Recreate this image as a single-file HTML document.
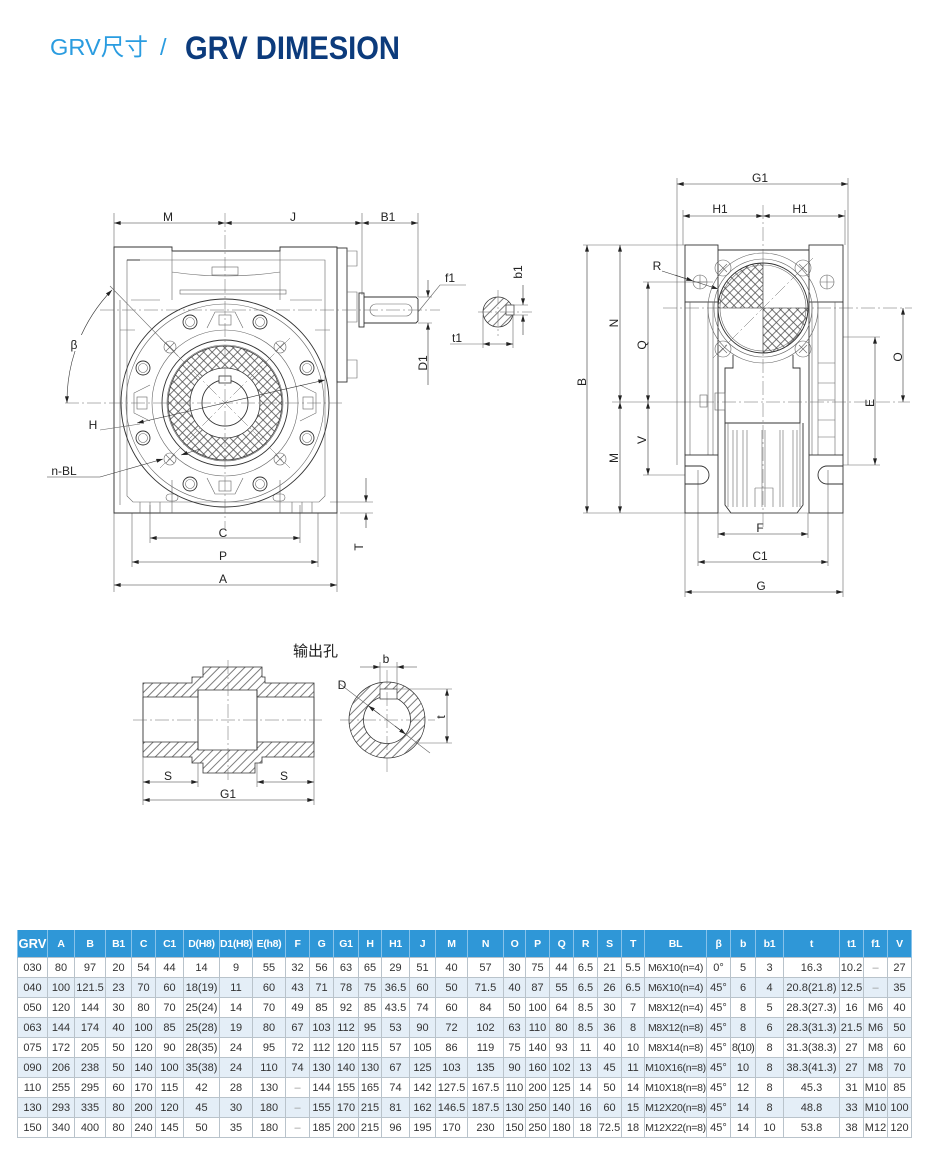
<!DOCTYPE html>
<html><head><meta charset="utf-8">
<style>
body{margin:0;width:930px;height:1150px;background:#fff;position:relative;overflow:hidden}
svg{position:absolute;left:0;top:0}
.k{stroke:#333;stroke-width:.9;fill:none}
.n{stroke:#666;stroke-width:.6;fill:none}
.c{stroke:#666;stroke-width:.5;fill:none;stroke-dasharray:14 3 2 3}
.d{stroke:#333;stroke-width:.6;fill:none;marker-start:url(#a);marker-end:url(#a)}
.e{stroke:#333;stroke-width:.6;fill:none;marker-end:url(#a)}
text{font-family:"Liberation Sans","Noto Sans CJK SC",sans-serif}
.lb{font-size:12px;fill:#222;text-anchor:middle}
table{position:absolute;left:17px;top:930px;width:894px;border-collapse:collapse;table-layout:fixed;font-family:"Liberation Sans",sans-serif;font-size:11px;color:#333;text-align:center}
th{height:27px;background:#2f97d7;color:#fff;font-weight:bold;padding:0;border-left:1px solid #86c2ea;border-right:1px solid #86c2ea;white-space:nowrap;overflow:hidden;font-size:10.5px;letter-spacing:-0.3px}
th.g{font-size:13px;letter-spacing:0}
td{height:19px;padding:0;border:1px solid #b9c3cb;white-space:nowrap;overflow:hidden}
tr:nth-child(odd) td{background:#e4eef7}
td.bl{font-size:10.5px;letter-spacing:-0.3px}
td.s{letter-spacing:-0.7px}
td.z{color:#999}
</style></head>
<body>
<svg width="930" height="920" viewBox="0 0 930 920">
<defs>
<marker id="a" viewBox="0 0 10 6" refX="10" refY="3" markerWidth="10" markerHeight="4" markerUnits="userSpaceOnUse" orient="auto-start-reverse"><path d="M0,0L10,3L0,6z" fill="#222"/></marker>
<pattern id="x" width="6" height="6" patternUnits="userSpaceOnUse" patternTransform="rotate(45)"><path d="M0,3H6M3,0V6" stroke="#444" stroke-width="0.7"/></pattern>
<pattern id="h" width="6" height="6" patternUnits="userSpaceOnUse" patternTransform="rotate(45)"><path d="M3,0V6" stroke="#444" stroke-width="0.7"/></pattern>
</defs>

<!-- Title -->
<text x="50" y="55" font-size="23.5" fill="#2a9ce0" textLength="98" lengthAdjust="spacingAndGlyphs">GRV尺寸</text>
<text x="160" y="55" font-size="23.5" fill="#2a9ce0">/</text>
<text x="185" y="59" font-size="32" font-weight="bold" fill="#0c3b7c" textLength="215" lengthAdjust="spacingAndGlyphs">GRV DIMESION</text>

<!-- ============ LEFT FRONT VIEW ============ -->
<path class="n" d="M114,213V592 M362,213V295 M418,213V297 M337,513V592 M132,513V567 M318,513V567 M150,505V543 M300,505V543 M330,502H373 M340,513H373"/>
<line class="d" x1="114" y1="223" x2="225" y2="223"/>
<line class="d" x1="225" y1="223" x2="362" y2="223"/>
<line class="d" x1="362" y1="223" x2="418" y2="223"/>
<line class="d" x1="150" y1="538" x2="300" y2="538"/>
<line class="d" x1="132" y1="562" x2="318" y2="562"/>
<line class="d" x1="114" y1="585" x2="337" y2="585"/>
<line class="e" x1="366" y1="478" x2="366" y2="502"/>
<line class="e" x1="366" y1="528" x2="366" y2="513"/>
<text class="lb" x="168" y="221">M</text>
<text class="lb" x="293" y="221">J</text>
<text class="lb" x="388" y="221">B1</text>
<text class="lb" x="223" y="537">C</text>
<text class="lb" x="223" y="560">P</text>
<text class="lb" x="223" y="583">A</text>
<text class="lb" transform="translate(363,547) rotate(-90)">T</text>

<!-- housing -->
<path class="k" d="M114,247H172V251H280V247H337V513H114Z"/>
<path class="n" d="M127,260H325V496L319,502H133L127,496Z"/>
<path class="k" d="M127,260H140"/>
<path class="n" d="M172,251V300 M280,251V300 M172,480V513 M280,480V513 M172,272Q225,280 280,272 M120,300V505 M131,300H160 M290,300H322 M120,330H135 M315,330H330"/>
<rect class="n" x="180" y="290" width="106" height="4"/>
<rect class="n" x="212" y="267" width="26" height="8"/>
<rect class="n" x="166" y="494" width="12" height="7" rx="3.5"/>
<rect class="n" x="273" y="494" width="12" height="7" rx="3.5"/>
<path class="n" d="M140,502V513 M150,502V513 M160,502V513 M292,502V513 M302,502V513 M312,502V513"/>
<!-- side plate + shaft -->
<rect class="k" x="337" y="248" width="10" height="134"/>
<path class="n" d="M347,251h10v15h-10 M347,292h10v30h-10 M347,360h10v18h-10"/>
<rect class="k" x="359" y="293" width="5" height="34"/>
<path class="k" d="M364,297H416L418,299V321L416,323H364"/>
<rect class="n" x="370" y="304" width="42" height="12" rx="6"/>
<line class="c" x1="100" y1="310" x2="440" y2="310"/>

<!-- flange circle system -->
<circle class="k" cx="225" cy="403" r="104"/>
<circle class="n" cx="225" cy="403" r="99"/>
<circle class="n" cx="225" cy="403" r="73"/>
<circle class="k" cx="225" cy="403" r="63"/>
<circle class="n" cx="225" cy="403" r="58"/>
<path fill="url(#x)" stroke="#333" stroke-width=".8" fill-rule="evenodd" d="M168,403A57,57 0 1 0 282,403A57,57 0 1 0 168,403Z M190,403A35,35 0 1 0 260,403A35,35 0 1 0 190,403Z"/>
<circle class="k" cx="225" cy="403" r="23"/>
<rect x="219" y="376" width="12" height="7" fill="#fff" stroke="#333" stroke-width=".8"/>
<g class="n">
<path d="M207,328L215,312H235L243,328"/>
<path d="M207,328L215,312H235L243,328" transform="rotate(90 225 403)"/>
<path d="M207,328L215,312H235L243,328" transform="rotate(180 225 403)"/>
<path d="M207,328L215,312H235L243,328" transform="rotate(270 225 403)"/>
</g>
<rect class="n" x="219" y="315" width="12" height="10"/>
<rect class="n" x="219" y="481" width="12" height="10"/>
<rect class="n" x="137" y="397" width="10" height="12"/>
<rect class="n" x="303" y="397" width="10" height="12"/>
<g>
<circle class="k" cx="190" cy="322" r="7"/><circle class="n" cx="190" cy="322" r="4.5"/>
<circle class="k" cx="260" cy="322" r="7"/><circle class="n" cx="260" cy="322" r="4.5"/>
<circle class="k" cx="143" cy="368" r="7"/><circle class="n" cx="143" cy="368" r="4.5"/>
<circle class="k" cx="307" cy="368" r="7"/><circle class="n" cx="307" cy="368" r="4.5"/>
<circle class="k" cx="143" cy="438" r="7"/><circle class="n" cx="143" cy="438" r="4.5"/>
<circle class="k" cx="307" cy="438" r="7"/><circle class="n" cx="307" cy="438" r="4.5"/>
<circle class="k" cx="190" cy="484" r="7"/><circle class="n" cx="190" cy="484" r="4.5"/>
<circle class="k" cx="260" cy="484" r="7"/><circle class="n" cx="260" cy="484" r="4.5"/>
</g>
<g>
<circle class="n" cx="170" cy="347" r="6"/><circle class="n" cx="280" cy="347" r="6"/>
<circle class="n" cx="170" cy="459" r="6"/><circle class="n" cx="280" cy="459" r="6"/>
<path class="n" d="M166,343l8,8m0,-8l-8,8 M276,343l8,8m0,-8l-8,8 M166,455l8,8m0,-8l-8,8 M276,455l8,8m0,-8l-8,8"/>
</g>
<line class="c" x1="225" y1="213" x2="225" y2="530"/>
<line class="c" x1="65" y1="403" x2="342" y2="403"/>
<line class="c" x1="160" y1="338" x2="290" y2="468"/>
<line class="c" x1="290" y1="338" x2="160" y2="468"/>
<line class="n" x1="110" y1="286" x2="178" y2="356"/>
<!-- beta arc -->
<path class="d" d="M112,290A160,160 0 0 0 67,403"/>
<rect x="64" y="335" width="20" height="16" fill="#fff"/>
<text class="lb" x="74" y="349">β</text>
<!-- H -->
<path class="n" d="M100,430L140,424"/>
<line class="d" x1="137" y1="423" x2="325" y2="380"/>
<text class="lb" x="93" y="429">H</text>
<!-- n-BL -->
<path class="e" d="M47,477H100L163,459"/>
<path class="e" d="M200,449L181,455"/>
<text class="lb" x="64" y="475">n-BL</text>

<!-- ============ SHAFT DETAIL ============ -->
<path class="n" d="M418,297H432 M418,323H432"/>
<line class="e" x1="428" y1="280" x2="428" y2="297"/>
<line class="e" x1="428" y1="385" x2="428" y2="323"/>
<path class="n" d="M418,312L440,285H466"/>
<text class="lb" x="450" y="282">f1</text>
<text class="lb" transform="translate(427,363) rotate(-90)">D1</text>
<!-- cross section -->
<circle cx="498" cy="312" r="15" fill="url(#h)" stroke="#333" stroke-width=".8"/>
<rect x="506" y="305" width="8" height="10" fill="#fff" stroke="#333" stroke-width=".7"/>
<line class="c" x1="478" y1="312" x2="532" y2="312"/>
<line class="c" x1="498" y1="290" x2="498" y2="336"/>
<path class="n" d="M508,305H528 M508,315H528 M483,315V348 M513,315V348 M450,344H483"/>
<line class="e" x1="523" y1="285" x2="523" y2="305"/>
<line class="e" x1="523" y1="335" x2="523" y2="315"/>
<line class="d" x1="483" y1="344" x2="513" y2="344"/>
<text class="lb" transform="translate(522,272) rotate(-90)">b1</text>
<text class="lb" x="457" y="342">t1</text>

<!-- ============ RIGHT SIDE VIEW ============ -->
<path class="n" d="M677,178V465 M848,178V465 M683,210V245 M845,210V245 M583,245H685 M583,513H685 M643,282H713 M643,475H685 M843,337H880 M843,465H880 M718,513V538 M808,513V538 M698,470V566 M828,470V566 M685,513V597 M843,513V597 M612,402H700"/>
<line class="d" x1="677" y1="184" x2="848" y2="184"/>
<line class="d" x1="683" y1="216" x2="763" y2="216"/>
<line class="d" x1="763" y1="216" x2="845" y2="216"/>
<line class="d" x1="587" y1="245" x2="587" y2="513"/>
<line class="d" x1="620" y1="245" x2="620" y2="402"/>
<line class="d" x1="620" y1="402" x2="620" y2="513"/>
<line class="d" x1="648" y1="282" x2="648" y2="402"/>
<line class="d" x1="648" y1="402" x2="648" y2="475"/>
<line class="d" x1="903" y1="308" x2="903" y2="402"/>
<line class="d" x1="875" y1="337" x2="875" y2="465"/>
<line class="d" x1="718" y1="534" x2="808" y2="534"/>
<line class="d" x1="698" y1="562" x2="828" y2="562"/>
<line class="d" x1="685" y1="592" x2="843" y2="592"/>
<text class="lb" x="760" y="182">G1</text>
<text class="lb" x="720" y="213">H1</text>
<text class="lb" x="800" y="213">H1</text>
<text class="lb" x="760" y="532">F</text>
<text class="lb" x="760" y="560">C1</text>
<text class="lb" x="761" y="590">G</text>
<text class="lb" transform="translate(586,382) rotate(-90)">B</text>
<text class="lb" transform="translate(618,323) rotate(-90)">N</text>
<text class="lb" transform="translate(618,458) rotate(-90)">M</text>
<text class="lb" transform="translate(646,345) rotate(-90)">Q</text>
<text class="lb" transform="translate(646,440) rotate(-90)">V</text>
<text class="lb" transform="translate(902,357) rotate(-90)">O</text>
<text class="lb" transform="translate(874,403) rotate(-90)">E</text>
<text class="lb" x="657" y="270">R</text>
<line class="e" x1="662" y1="271" x2="718" y2="289"/>
<line class="e" x1="675" y1="275" x2="693" y2="281"/>

<!-- housing -->
<rect class="k" x="685" y="245" width="33" height="57"/>
<rect class="k" x="809" y="245" width="34" height="57"/>
<path class="k" d="M718,250H809"/>
<circle class="n" cx="700" cy="282" r="7"/>
<circle class="n" cx="827" cy="282" r="7"/>
<path class="n" d="M693,282H707M700,275V289 M820,282H834M827,275V289"/>
<path class="k" d="M685,302V455 M718,302V455 M809,302V455 M843,302V455"/>
<path class="n" d="M690,302V455 M708,302V455 M713,302V455 M812,302V455 M818,302V455 M835,302V455 M818,363H835 M818,383H835 M818,400H835 M818,420H835 M818,437H835"/>
<rect class="k" x="685" y="455" width="33" height="58"/>
<rect class="k" x="809" y="455" width="34" height="58"/>
<path class="k" d="M685,466H700A9,9 0 0 1 700,484H685"/>
<path class="k" d="M843,466H827A9,9 0 0 0 827,484H843"/>
<path class="k" d="M733,355V368H725V423H800V368H793V355"/>
<rect class="n" x="715" y="393" width="10" height="17"/>
<rect class="n" x="700" y="395" width="7" height="12"/>
<path class="k" d="M725,423V505L731,513H797L803,505V423"/>
<path class="n" d="M728,423V507 M733,430V507 M737,430V507 M743,430V507 M747,430V507 M762,430V507 M765,430V507 M780,430V507 M783,430V507 M793,430V507 M797,430V507 M800,423V507 M755,488H773V507 M755,488V507 M718,513H809"/>
<!-- flange + circle -->
<circle class="n" cx="763" cy="308" r="55"/>
<circle class="n" cx="763" cy="308" r="49"/>
<circle class="n" cx="723" cy="268" r="8"/><circle class="n" cx="803" cy="268" r="8"/>
<circle class="n" cx="723" cy="349" r="8"/><circle class="n" cx="803" cy="349" r="8"/>
<path class="n" d="M719,264l8,8m0,-8l-8,8 M799,264l8,8m0,-8l-8,8 M719,345l8,8m0,-8l-8,8 M799,345l8,8m0,-8l-8,8"/>
<circle cx="763" cy="308" r="45" fill="#fff" stroke="#333" stroke-width=".9"/>
<path fill="url(#x)" stroke="#333" stroke-width=".6" d="M763,308H718A45,45 0 0 1 763,263Z M763,308H808A45,45 0 0 1 763,353Z"/>
<circle class="n" cx="763" cy="308" r="43"/>
<line class="c" x1="763" y1="205" x2="763" y2="530"/>
<line class="c" x1="663" y1="308" x2="912" y2="308"/>
<line class="c" x1="700" y1="402" x2="910" y2="402"/>
<line class="c" x1="713" y1="358" x2="813" y2="258"/>

<!-- ============ OUTPUT HOLE SECTION ============ -->
<text x="293" y="656" font-size="15" fill="#222">输出孔</text>
<path fill="url(#h)" stroke="#333" stroke-width=".8" d="M143,683H192V677H203V667H262V677H265V683H314V697H257V690H198V697H143Z"/>
<path fill="url(#h)" stroke="#333" stroke-width=".8" d="M143,757H192V763H203V773H255V763H262V757H314V742H257V750H198V742H143Z"/>
<path class="k" d="M143,697V742 M314,697V742 M198,690V750 M257,690V750"/>
<path class="n" d="M143,757V805 M314,757V805 M198,763V787 M257,763V787"/>
<line class="c" x1="133" y1="720" x2="322" y2="720"/>
<line class="c" x1="228" y1="660" x2="228" y2="780"/>
<line class="d" x1="143" y1="782" x2="198" y2="782"/>
<line class="d" x1="257" y1="782" x2="314" y2="782"/>
<line class="d" x1="143" y1="800" x2="314" y2="800"/>
<text class="lb" x="168" y="780">S</text>
<text class="lb" x="284" y="780">S</text>
<text class="lb" x="228" y="798">G1</text>
<!-- ring -->
<path fill="url(#h)" stroke="#333" stroke-width=".8" fill-rule="evenodd" d="M349,720A38,38 0 1 0 425,720A38,38 0 1 0 349,720Z M363.5,720A23.5,23.5 0 1 0 410.5,720A23.5,23.5 0 1 0 363.5,720Z"/>
<rect x="380" y="689" width="17" height="10" fill="#fff" stroke="#333" stroke-width=".7"/>
<line class="c" x1="340" y1="720" x2="435" y2="720"/>
<line class="c" x1="387" y1="670" x2="387" y2="772"/>
<path class="n" d="M380,662V689 M397,662V689 M397,689H452 M415,743H452 M340,684L430,753"/>
<line class="e" x1="360" y1="667" x2="380" y2="667"/>
<line class="e" x1="417" y1="667" x2="397" y2="667"/>
<line class="n" x1="380" y1="667" x2="397" y2="667"/>
<line class="d" x1="447" y1="689" x2="447" y2="743"/>
<line class="e" x1="380" y1="714.6" x2="368.3" y2="705.8"/>
<line class="e" x1="395" y1="726" x2="405.7" y2="734.2"/>
<text class="lb" x="386" y="663">b</text>
<text class="lb" x="342" y="689">D</text>
<text class="lb" transform="translate(445,717) rotate(-90)">t</text>
</svg>

<table>
<colgroup>
<col style="width:30px"><col style="width:27px"><col style="width:31px"><col style="width:26px"><col style="width:24px"><col style="width:28px"><col style="width:36px"><col style="width:33px"><col style="width:33px"><col style="width:24px"><col style="width:24px"><col style="width:25px"><col style="width:23px"><col style="width:28px"><col style="width:26px"><col style="width:32px"><col style="width:36px"><col style="width:22px"><col style="width:24px"><col style="width:24px"><col style="width:24px"><col style="width:24px"><col style="width:23px"><col style="width:62px"><col style="width:24px"><col style="width:25px"><col style="width:28px"><col style="width:56px"><col style="width:24px"><col style="width:24px"><col style="width:24px">
</colgroup>
<tr><th class="g">GRV</th><th>A</th><th>B</th><th>B1</th><th>C</th><th>C1</th><th>D(H8)</th><th>D1(H8)</th><th>E(h8)</th><th>F</th><th>G</th><th>G1</th><th>H</th><th>H1</th><th>J</th><th>M</th><th>N</th><th>O</th><th>P</th><th>Q</th><th>R</th><th>S</th><th>T</th><th>BL</th><th>β</th><th>b</th><th>b1</th><th>t</th><th>t1</th><th>f1</th><th>V</th></tr>
<tr><td>030</td><td>80</td><td>97</td><td>20</td><td>54</td><td>44</td><td>14</td><td>9</td><td>55</td><td>32</td><td>56</td><td>63</td><td>65</td><td>29</td><td>51</td><td>40</td><td>57</td><td>30</td><td>75</td><td>44</td><td>6.5</td><td>21</td><td>5.5</td><td class="bl">M6X10(n=4)</td><td>0°</td><td>5</td><td>3</td><td>16.3</td><td>10.2</td><td class="z">–</td><td>27</td></tr>
<tr><td>040</td><td>100</td><td>121.5</td><td>23</td><td>70</td><td>60</td><td>18(19)</td><td>11</td><td>60</td><td>43</td><td>71</td><td>78</td><td>75</td><td>36.5</td><td>60</td><td>50</td><td>71.5</td><td>40</td><td>87</td><td>55</td><td>6.5</td><td>26</td><td>6.5</td><td class="bl">M6X10(n=4)</td><td>45°</td><td>6</td><td>4</td><td>20.8(21.8)</td><td>12.5</td><td class="z">–</td><td>35</td></tr>
<tr><td>050</td><td>120</td><td>144</td><td>30</td><td>80</td><td>70</td><td>25(24)</td><td>14</td><td>70</td><td>49</td><td>85</td><td>92</td><td>85</td><td>43.5</td><td>74</td><td>60</td><td>84</td><td>50</td><td>100</td><td>64</td><td>8.5</td><td>30</td><td>7</td><td class="bl">M8X12(n=4)</td><td>45°</td><td>8</td><td>5</td><td>28.3(27.3)</td><td>16</td><td>M6</td><td>40</td></tr>
<tr><td>063</td><td>144</td><td>174</td><td>40</td><td>100</td><td>85</td><td>25(28)</td><td>19</td><td>80</td><td>67</td><td>103</td><td>112</td><td>95</td><td>53</td><td>90</td><td>72</td><td>102</td><td>63</td><td>110</td><td>80</td><td>8.5</td><td>36</td><td>8</td><td class="bl">M8X12(n=8)</td><td>45°</td><td>8</td><td>6</td><td>28.3(31.3)</td><td>21.5</td><td>M6</td><td>50</td></tr>
<tr><td>075</td><td>172</td><td>205</td><td>50</td><td>120</td><td>90</td><td>28(35)</td><td>24</td><td>95</td><td>72</td><td>112</td><td>120</td><td>115</td><td>57</td><td>105</td><td>86</td><td>119</td><td>75</td><td>140</td><td>93</td><td>11</td><td>40</td><td>10</td><td class="bl">M8X14(n=8)</td><td>45°</td><td class="s">8(10)</td><td>8</td><td>31.3(38.3)</td><td>27</td><td>M8</td><td>60</td></tr>
<tr><td>090</td><td>206</td><td>238</td><td>50</td><td>140</td><td>100</td><td>35(38)</td><td>24</td><td>110</td><td>74</td><td>130</td><td>140</td><td>130</td><td>67</td><td>125</td><td>103</td><td>135</td><td>90</td><td>160</td><td>102</td><td>13</td><td>45</td><td>11</td><td class="bl">M10X16(n=8)</td><td>45°</td><td>10</td><td>8</td><td>38.3(41.3)</td><td>27</td><td>M8</td><td>70</td></tr>
<tr><td>110</td><td>255</td><td>295</td><td>60</td><td>170</td><td>115</td><td>42</td><td>28</td><td>130</td><td class="z">–</td><td>144</td><td>155</td><td>165</td><td>74</td><td>142</td><td>127.5</td><td>167.5</td><td>110</td><td>200</td><td>125</td><td>14</td><td>50</td><td>14</td><td class="bl">M10X18(n=8)</td><td>45°</td><td>12</td><td>8</td><td>45.3</td><td>31</td><td>M10</td><td>85</td></tr>
<tr><td>130</td><td>293</td><td>335</td><td>80</td><td>200</td><td>120</td><td>45</td><td>30</td><td>180</td><td class="z">–</td><td>155</td><td>170</td><td>215</td><td>81</td><td>162</td><td>146.5</td><td>187.5</td><td>130</td><td>250</td><td>140</td><td>16</td><td>60</td><td>15</td><td class="bl">M12X20(n=8)</td><td>45°</td><td>14</td><td>8</td><td>48.8</td><td>33</td><td>M10</td><td>100</td></tr>
<tr><td>150</td><td>340</td><td>400</td><td>80</td><td>240</td><td>145</td><td>50</td><td>35</td><td>180</td><td class="z">–</td><td>185</td><td>200</td><td>215</td><td>96</td><td>195</td><td>170</td><td>230</td><td>150</td><td>250</td><td>180</td><td>18</td><td>72.5</td><td>18</td><td class="bl">M12X22(n=8)</td><td>45°</td><td>14</td><td>10</td><td>53.8</td><td>38</td><td>M12</td><td>120</td></tr>
</table>
</body></html>
